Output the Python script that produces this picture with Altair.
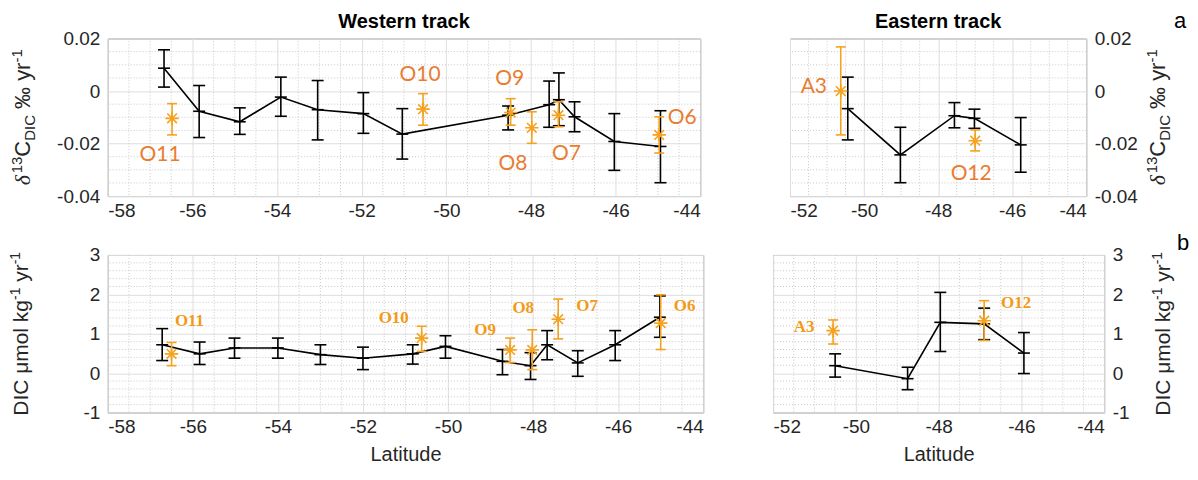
import altair as alt
import numpy as np
import pandas as pd

# ---------------- data ----------------
# (a) delta13C-DIC trend, western track : black series (line + error bars)
a_w_lat = [-56.67, -55.84, -54.88, -53.91, -53.04, -51.96, -51.04, -48.54, -47.57, -47.34, -46.97, -46.03, -44.94]
a_w_val = [0.0087, -0.0077, -0.0117, -0.0023, -0.0071, -0.0086, -0.0164, -0.0092, -0.0052, -0.0033, -0.0098, -0.0192, -0.0211]
a_w_lo = [0.0015, -0.0177, -0.0165, -0.0096, -0.0186, -0.0161, -0.0259, -0.0148, -0.0138, -0.0132, -0.0155, -0.0302, -0.0349]
a_w_hi = [0.0157, 0.0021, -0.0064, 0.0053, 0.0040, -0.0006, -0.0067, -0.0057, 0.0038, 0.0069, -0.0041, -0.0086, -0.0075]
# (a) western track : orange stations
a_w_names = ["O11", "O10", "O9", "O8", "O7", "O6"]
a_w_olat = [-56.48, -50.55, -48.48, -47.98, -47.35, -44.97]
a_w_oval = [-0.0104, -0.0069, -0.0082, -0.0140, -0.0092, -0.0167]
a_w_olo = [-0.0167, -0.0130, -0.0130, -0.0199, -0.0136, -0.0236]
a_w_ohi = [-0.0048, -0.0010, -0.0029, -0.0079, -0.0041, -0.0098]

# (a) eastern track
a_e_lat = [-50.44, -49.02, -47.56, -47.02, -45.77]
a_e_val = [-0.0067, -0.0243, -0.0094, -0.0104, -0.0205]
a_e_lo = [-0.0186, -0.0349, -0.0140, -0.0142, -0.0309]
a_e_hi = [0.0053, -0.0138, -0.0044, -0.0069, -0.0101]
a_e_names = ["A3", "O12"]
a_e_olat = [-50.63, -47.00]
a_e_oval = [0.0000, -0.0189]
a_e_olo = [-0.0167, -0.0228]
a_e_ohi = [0.0168, -0.0148]

# (b) DIC trend, western track
b_w_lat = [-56.72, -55.84, -55.02, -54.00, -53.00, -52.00, -50.83, -50.06, -48.72, -48.06, -47.67, -46.95, -46.07, -45.02]
b_w_val = [0.72, 0.49, 0.64, 0.64, 0.47, 0.38, 0.49, 0.68, 0.30, 0.19, 0.72, 0.26, 0.72, 1.42]
b_w_lo = [0.32, 0.22, 0.38, 0.38, 0.22, 0.09, 0.23, 0.38, -0.04, -0.16, 0.34, -0.08, 0.32, 0.91]
b_w_hi = [1.13, 0.79, 0.89, 0.89, 0.72, 0.66, 0.72, 0.95, 0.60, 0.52, 1.08, 0.57, 1.08, 1.96]
b_w_names = ["O11", "O10", "O9", "O8", "O7", "O6"]
b_w_olat = [-56.50, -50.62, -48.54, -48.02, -47.41, -45.00]
b_w_oval = [0.49, 0.89, 0.59, 0.59, 1.37, 1.27]
b_w_olo = [0.19, 0.55, 0.27, 0.09, 0.87, 0.60]
b_w_ohi = [0.78, 1.19, 0.89, 1.10, 1.88, 1.99]

# (b) eastern track
b_e_lat = [-50.50, -48.75, -47.96, -46.90, -45.94]
b_e_val = [0.19, -0.14, 1.29, 1.25, 0.51]
b_e_lo = [-0.10, -0.42, 0.55, 0.85, -0.01]
b_e_hi = [0.49, 0.15, 2.05, 1.65, 1.03]
b_e_names = ["A3", "O12"]
b_e_olat = [-50.55, -46.90]
b_e_oval = [1.08, 1.33]
b_e_olo = [0.74, 0.83]
b_e_ohi = [1.35, 1.84]

# ---------------- styling ----------------
FONT = "Liberation Sans"
AXC = "#262626"
GRID = "#dedede"
MINOR = "#c8c8c8"
FRAME = "#8a8a8a"
BLACK = "#000000"
ORANGE = "#F4A21F"
ASTER = "M-1,0L1,0M0,-1L0,1M-0.72,-0.72L0.72,0.72M-0.72,0.72L0.72,-0.72"

TOP_LABEL = dict(font="Lato", fontSize=21, color="#E97C30", align="center", baseline="middle")
BOT_LABEL = dict(font="Liberation Serif", fontSize=17, fontWeight="bold", color="#F29A17",
                 align="center", baseline="middle")

# pixel offsets of station labels from their points
OFF_A_W = {"O11": (-12, 37), "O10": (-3, -34), "O9": (-1, -34), "O8": (-19, 36), "O7": (8, 39), "O6": (23, -17)}
OFF_A_E = {"A3": (-27, -4), "O12": (-4, 33)}
OFF_B_W = {"O11": (18, -33), "O10": (-28, -20), "O9": (-25, -20), "O8": (-9, -42), "O7": (29, -13), "O6": (24, -17)}
OFF_B_E = {"A3": (-29, -4), "O12": (32, -18)}

ONE = pd.DataFrame({"k": [0]})

WID = {" ": 0.278, "D": 0.722, "I": 0.278, "C": 0.722, "μ": 0.576, "m": 0.833, "o": 0.556,
       "l": 0.222, "k": 0.5, "g": 0.556, "y": 0.5, "r": 0.333, "-": 0.333, "1": 0.556,
       "3": 0.556, "‰": 1.0, "δ": 0.5}


def label_expr(dec):
    if dec == 0:
        return "(datum.value < 0 ? '-' : '') + format(abs(datum.value), 'd')"
    return ("datum.value == 0 ? '0' : (datum.value < 0 ? '-' : '') + format(abs(datum.value), '.%df')"
            % dec)


def rot_title(segs, xc, yc, base):
    """segs: (text, fontsize, shift, font, style, gap_before_em)"""
    widths = [sum(WID.get(c, 0.55) for c in t) * fs for (t, fs, sh, f, st, g) in segs]
    gaps = [g * base for (t, fs, sh, f, st, g) in segs]
    total = sum(widths) + sum(gaps)
    y = yc + total / 2
    out = []
    for (t, fs, sh, f, st, g), wd, gp in zip(segs, widths, gaps):
        y -= gp
        out.append(alt.Chart(ONE).mark_text(text=t, angle=270, align="left", baseline="alphabetic",
                                            font=f, fontSize=fs, fontStyle=st, color=AXC)
                   .encode(x=alt.value(xc + 0.36 * base + sh), y=alt.value(y)))
        y -= wd
    return out


def text_at(txt, x, y, size, weight="normal", baseline="middle"):
    return alt.Chart(ONE).mark_text(text=txt, font=FONT, fontSize=size, fontWeight=weight,
                                    color="black", align="center", baseline=baseline
                                    ).encode(x=alt.value(x), y=alt.value(y))


D13_TITLE = [("δ", 22, 0, "Liberation Serif", "italic", 0),
             ("13", 15, -8, FONT, "normal", 0.05),
             ("C", 22, 0, FONT, "normal", 0),
             ("DIC", 15, 5, FONT, "normal", 0),
             ("‰ yr", 22, 0, FONT, "normal", 0.28),
             ("-1", 15, -8, FONT, "normal", 0)]
DIC_TITLE = [("DIC μmol kg", 21, 0, FONT, "normal", 0),
             ("-1", 14, -8, FONT, "normal", 0),
             ("yr", 21, 0, FONT, "normal", 0.28),
             ("-1", 14, -8, FONT, "normal", 0)]


def minor_vals(lo, hi, step, major):
    v = np.round(np.arange(lo, hi + step / 2, step), 6)
    return [float(x) for x in v if abs(x / major - round(x / major)) > 1e-6]


def panel(blk, org, offs, lstyle, xdom, ydom, w, h, xvals, yvals, ydec, yorient,
          xminor, yminor, xtitle, extras):
    blat, bval, blo, bhi = blk
    names, olat, oval, olo, ohi = org
    xs = alt.Scale(domain=xdom, nice=False, zero=False)
    ys = alt.Scale(domain=ydom, nice=False, zero=False)
    common = dict(grid=True, gridColor=GRID, gridWidth=1, domain=False, ticks=False,
                  labelFont=FONT, labelFontSize=19, labelColor=AXC)
    xaxis = alt.Axis(values=xvals, labelExpr=label_expr(0), labelPadding=5, titleFont=FONT,
                     titleFontSize=20, titleFontWeight="normal", titleColor=AXC, titlePadding=8,
                     **common)
    yaxis = alt.Axis(values=yvals, labelExpr=label_expr(ydec), orient=yorient, labelPadding=8, **common)

    bdf = pd.DataFrame({"lat": blat, "val": bval, "lo": blo, "hi": bhi})
    odf = pd.DataFrame({"lat": olat, "val": oval, "lo": olo, "hi": ohi, "name": names})

    # every layer carries the same axis definition, so the shared axes merge cleanly
    def X(f="lat"):
        if xtitle:
            return alt.X(f"{f}:Q", scale=xs, axis=xaxis, title=xtitle)
        return alt.X(f"{f}:Q", scale=xs, axis=xaxis, title=None)

    def Y(f):
        return alt.Y(f"{f}:Q", scale=ys, axis=yaxis, title=None)

    layers = []
    layers.append(alt.Chart(pd.DataFrame({"v": minor_vals(xdom[0], xdom[1], xminor[0], xminor[1])}))
                  .mark_rule(color=MINOR, strokeDash=[1, 2], strokeWidth=1)
                  .encode(x=X("v")))
    layers.append(alt.Chart(pd.DataFrame({"v": minor_vals(ydom[0], ydom[1], yminor[0], yminor[1])}))
                  .mark_rule(color=MINOR, strokeDash=[1, 2], strokeWidth=1)
                  .encode(y=Y("v")))
    # black error bars
    layers.append(alt.Chart(bdf).mark_rule(color=BLACK, strokeWidth=1.6)
                  .encode(x=X(), y=Y("lo"), y2="hi:Q"))
    for f in ["lo", "hi", "val"]:
        layers.append(alt.Chart(bdf).mark_rule(color=BLACK, strokeWidth=1.6, xOffset=-6, x2Offset=6)
                      .encode(x=X(), x2="lat:Q", y=Y(f)))
    layers.append(alt.Chart(bdf).mark_line(color=BLACK, strokeWidth=1.6).encode(x=X(), y=Y("val")))
    # orange stations
    layers.append(alt.Chart(odf).mark_rule(color=ORANGE, strokeWidth=1.6)
                  .encode(x=X(), y=Y("lo"), y2="hi:Q"))
    for f in ["lo", "hi"]:
        layers.append(alt.Chart(odf).mark_rule(color=ORANGE, strokeWidth=1.6, xOffset=-5, x2Offset=5)
                      .encode(x=X(), x2="lat:Q", y=Y(f)))
    layers.append(alt.Chart(odf).mark_point(shape=ASTER, filled=False, size=180, strokeWidth=1.6,
                                            color=ORANGE, opacity=1)
                  .encode(x=X(), y=Y("val")))
    for i, nm in enumerate(names):
        dx, dy = offs[nm]
        one = pd.DataFrame({"lat": [olat[i]], "val": [oval[i]], "name": [nm]})
        layers.append(alt.Chart(one).mark_text(dx=dx, dy=dy, **lstyle)
                      .encode(x=X(), y=Y("val"), text="name:N"))
    layers.extend(extras)
    return alt.layer(*layers).properties(width=w, height=h)


H = 158
XMIN = (0.5, 2)
W_TL, W_TR, W_BL, W_BR = 594, 297, 597, 332
TL = panel((a_w_lat, a_w_val, a_w_lo, a_w_hi),
           (a_w_names, a_w_olat, a_w_oval, a_w_olo, a_w_ohi),
           OFF_A_W, TOP_LABEL, [-58, -44], [-0.04, 0.02], W_TL, H,
           [-58, -56, -54, -52, -50, -48, -46, -44], [-0.04, -0.02, 0, 0.02], 2, "left",
           XMIN, (0.005, 0.02), None,
           rot_title(D13_TITLE, -86, H / 2, 22) + [text_at("Western track", W_TL / 2, -17, 20, "bold")])
TR = panel((a_e_lat, a_e_val, a_e_lo, a_e_hi),
           (a_e_names, a_e_olat, a_e_oval, a_e_olo, a_e_ohi),
           OFF_A_E, TOP_LABEL, [-52, -44], [-0.04, 0.02], W_TR, H,
           [-52, -50, -48, -46, -44], [-0.04, -0.02, 0, 0.02], 2, "right",
           XMIN, (0.005, 0.02), None,
           rot_title(D13_TITLE, W_TR + 71, H / 2, 22) +
           [text_at("Eastern track", W_TR / 2, -17, 20, "bold"),
            text_at("a", W_TR + 94, -28, 22, baseline="top")])
BL = panel((b_w_lat, b_w_val, b_w_lo, b_w_hi),
           (b_w_names, b_w_olat, b_w_oval, b_w_olo, b_w_ohi),
           OFF_B_W, BOT_LABEL, [-58, -44], [-1, 3], W_BL, H,
           [-58, -56, -54, -52, -50, -48, -46, -44], [-1, 0, 1, 2, 3], 0, "left",
           XMIN, (0.2, 1), "Latitude", rot_title(DIC_TITLE, -88, H / 2, 21))
BR = panel((b_e_lat, b_e_val, b_e_lo, b_e_hi),
           (b_e_names, b_e_olat, b_e_oval, b_e_olo, b_e_ohi),
           OFF_B_E, BOT_LABEL, [-52, -44], [-1, 3], W_BR, H,
           [-52, -50, -48, -46, -44], [-1, 0, 1, 2, 3], 0, "right",
           XMIN, (0.2, 1), "Latitude",
           rot_title(DIC_TITLE, W_BR + 58, H / 2, 21) + [text_at("b", W_BR + 79, -12, 22)])

row1 = alt.hconcat(TL, TR, spacing=90, bounds="flush")
row2 = alt.hconcat(BL, BR, spacing=70, bounds="flush")
chart = (alt.vconcat(row1, row2, spacing=10)
         .properties(padding={"left": 0, "top": 0, "right": 0, "bottom": 0})
         .configure(background="white")
         .configure_view(stroke=FRAME, strokeWidth=1))

chart.save("out.html", embed_options={"renderer": "svg", "actions": False})
